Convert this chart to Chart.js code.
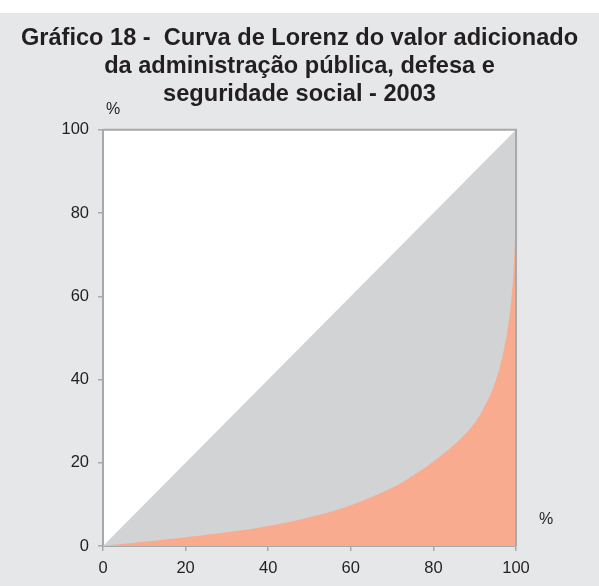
<!DOCTYPE html>
<html>
<head>
<meta charset="utf-8">
<script src="https://cdn.jsdelivr.net/npm/chart.js@4/dist/chart.umd.min.js"></script>
<style>
  body { margin: 0; background: #ffffff; }
  #wrap { width: 599px; height: 586px; }
</style>
</head>
<body>
<div id="wrap"><canvas id="myChart" width="599" height="586"></canvas></div>
<script>
// population share (%) and cumulative value added share (%)
const lorenzX = [0, 10, 20, 30, 40, 50, 60, 70, 75, 80, 85, 88, 90, 92, 94, 95, 96, 97, 98, 99, 99.5, 99.8, 100];
const lorenzY = [0, 1.0, 2.1, 3.3, 4.8, 6.9, 9.8, 14.0, 16.9, 20.3, 24.3, 27.2, 29.6, 32.8, 36.8, 39.5, 42.8, 46.8, 52.2, 60.5, 68.0, 76.0, 100];
// line of perfect equality
const equalX = [0, 100];
const equalY = [0, 100];
const tickValues = [0, 20, 40, 60, 80, 100];

const titleLines = [
  "Gráfico 18 -  Curva de Lorenz do valor adicionado",
  "da administração pública, defesa e",
  "seguridade social - 2003",
];

const FONT = "'Liberation Sans', Arial, Helvetica, sans-serif";
const TEXT = "#231f20";
const AXIS = "#a7a9ac";

function toPoints(xs, ys) {
  return xs.map(function (x, i) { return { x: x, y: ys[i] }; });
}

const backdrop = {
  id: "backdrop",
  beforeDraw(chart) {
    const c = chart.ctx;
    const a = chart.chartArea;
    c.save();
    c.fillStyle = "#e6e7e8";
    c.fillRect(0, 13, chart.width, chart.height - 13);
    c.fillStyle = "#ffffff";
    c.fillRect(a.left, a.top, a.right - a.left, a.bottom - a.top);
    c.restore();
  },
  afterDatasetsDraw(chart) {
    const c = chart.ctx;
    const a = chart.chartArea;
    c.save();
    c.strokeStyle = AXIS;
    c.lineWidth = 2;
    c.beginPath();
    c.moveTo(a.left, a.top);
    c.lineTo(a.right, a.top);
    c.lineTo(a.right, a.bottom);
    c.stroke();
    // unit labels
    c.fillStyle = TEXT;
    c.font = "16px " + FONT;
    c.textAlign = "center";
    c.textBaseline = "middle";
    c.fillText("%", a.left + 10, a.top - 20);
    c.fillText("%", a.right + 30, a.bottom - 26);
    c.restore();
  },
};

const ctx = document.getElementById("myChart").getContext("2d");

new Chart(ctx, {
  type: "line",
  data: {
    datasets: [
      {
        label: "Curva de Lorenz",
        data: toPoints(lorenzX, lorenzY),
        backgroundColor: "#f9ab8f",
        borderWidth: 0,
        pointRadius: 0,
        fill: "origin",
        tension: 0.4,
        order: 1,
      },
      {
        label: "Igualdade",
        data: toPoints(equalX, equalY),
        backgroundColor: "#d1d3d4",
        borderWidth: 0,
        pointRadius: 0,
        fill: "origin",
        order: 2,
      },
    ],
  },
  options: {
    responsive: false,
    animation: false,
    layout: { padding: 0 },
    plugins: {
      legend: { display: false },
      tooltip: { enabled: false },
      title: {
        display: true,
        text: titleLines,
        color: TEXT,
        font: { family: FONT, size: 23.6, weight: "bold", lineHeight: 1.17 },
        padding: { top: 25, bottom: 22 },
      },
    },
    scales: {
      x: {
        type: "linear",
        min: 0,
        max: 100,
        afterBuildTicks(scale) {
          scale.ticks = tickValues.map(function (v) { return { value: v }; });
        },
        afterFit(scale) { scale.height = 40; },
        border: { color: AXIS, width: 2 },
        grid: { drawOnChartArea: false, color: AXIS, tickLength: 5, lineWidth: 1.5 },
        ticks: { color: TEXT, font: { family: FONT, size: 16.5 }, padding: 8, maxRotation: 0 },
      },
      y: {
        type: "linear",
        min: 0,
        max: 100,
        afterBuildTicks(scale) {
          scale.ticks = tickValues.map(function (v) { return { value: v }; });
        },
        afterFit(scale) { scale.width = 103; },
        border: { color: AXIS, width: 2 },
        grid: { drawOnChartArea: false, color: AXIS, tickLength: 5, lineWidth: 1.5 },
        ticks: { color: TEXT, font: { family: FONT, size: 16.5 }, padding: 9 },
      },
      // empty right margin that holds the x-axis unit label
      y2: {
        position: "right",
        min: 0,
        max: 100,
        afterFit(scale) { scale.width = 83; },
        border: { display: false },
        grid: { display: false },
        ticks: { display: false },
      },
    },
  },
  plugins: [backdrop],
});
</script>
</body>
</html>
